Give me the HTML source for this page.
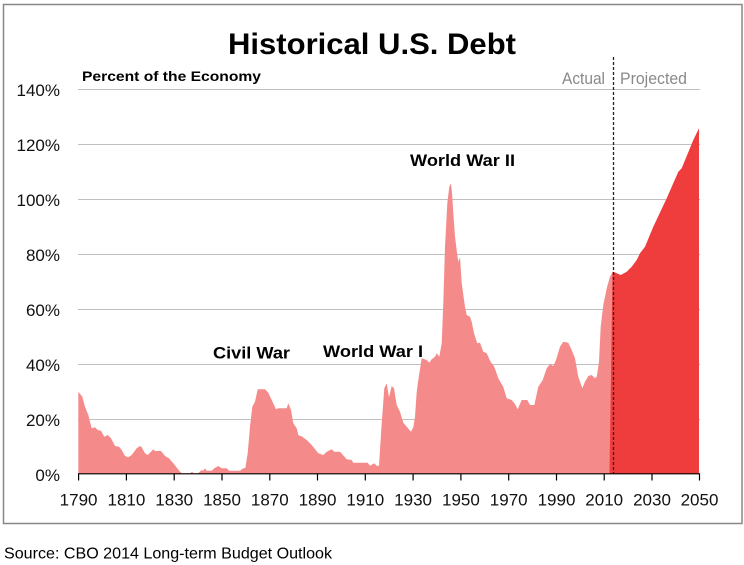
<!DOCTYPE html>
<html><head><meta charset="utf-8"><style>
html,body{margin:0;padding:0;background:#fff;}
svg{display:block;}
</style></head><body>
<svg width="744" height="565" viewBox="0 0 744 565" xmlns="http://www.w3.org/2000/svg" font-family="'Liberation Sans', Arial, sans-serif">
<rect x="0" y="0" width="744" height="565" fill="#fff"/>
<rect x="3.5" y="4.5" width="738.5" height="519" fill="none" stroke="#878787" stroke-width="1.5"/>
<!-- gridlines -->
<g stroke="#c0c0c0" stroke-width="1">
<line x1="78" y1="89.5" x2="700" y2="89.5"/>
<line x1="78" y1="144.5" x2="700" y2="144.5"/>
<line x1="78" y1="199.5" x2="700" y2="199.5"/>
<line x1="78" y1="254.5" x2="700" y2="254.5"/>
<line x1="78" y1="309.5" x2="700" y2="309.5"/>
<line x1="78" y1="364.5" x2="700" y2="364.5"/>
<line x1="78" y1="419.5" x2="700" y2="419.5"/>
</g>
<!-- actual -->
<path fill="#f58a8b" d="M78.3,473.5 L78.3,391.7 82.3,396.7 85,406.7 88.3,415 91.7,428.3 95,427.3 97.7,430 101,430.7 104.3,436.7 107.7,435 111,438.3 115,446 119,446.7 121.7,450 125,456 128.3,457.3 131.7,455 136.7,448.3 140,446 141.7,447.3 145,453.3 147.7,455 150,452.7 153.3,449.3 155,451 161,451 165,456 169,458.3 173.3,463.3 180,471.7 182,473.3 190,473.3 192,471.7 194,473.3 198,473.3 201.7,470 203.3,470.7 205,468.3 206.7,470.7 211.7,470.7 214.3,468.3 218.3,466 221.7,468.3 226.7,468.3 229,470.7 240,470.7 243.3,468.3 245.3,468 247.7,453.3 250,426.7 252.3,406.7 255,401.7 257.7,389.3 265,389.3 268.3,392.7 271.7,400 276,409.3 278.3,408.3 286.7,408.3 288.3,403.3 291,410 293.3,423.3 296.7,428.3 298.3,435 302.3,436.7 306.7,440 311.7,445 318.3,453.3 323.3,455 326.7,451.7 331.7,449.3 334.3,451.7 340,451.7 346.7,459.3 351.7,460 353.3,462.7 367.7,462.7 370,465.7 374.3,463.3 376.7,465.7 379,465.7 381.7,423.3 384.3,388.3 386.7,383.3 389,397.3 391.7,386 394,388.3 396.7,405 400,411.7 403.3,422.7 406.7,426.7 411,431.7 413.3,427.3 415,416.7 416.7,392 418.3,380 421.7,358.3 426.7,360 429.3,362.7 431.7,359.3 435,356.7 436.7,353.3 439.3,356.7 441.7,343.3 443.3,303.3 445,246.7 447.3,203.3 449.3,186.7 451,183.3 452.3,196.7 453.3,213.3 455,236.7 457.3,255 458.3,261.7 460,257.3 461.7,283.3 465,306.7 466.7,315 470,316.7 471.7,321.7 474,333.3 477.3,343.3 480,342.7 483.3,351.7 486.7,353.3 490,360.7 494.3,366.7 498.3,378.3 503.3,387 506.7,398.3 511.7,400 515,404 517.7,409.3 521.7,400 527.3,400 530,405 534.3,405 538.3,386.7 542.7,380 546.7,368.3 550,364 553.3,366 556,360 560,346.7 563.3,341.7 568.3,342.7 571.7,350 575,358.3 578.3,376.7 582.3,388.3 585,381.7 588.3,376 591.7,375 595,378.3 596.7,376.7 599,361.7 600.7,326.7 603.3,305 606.7,288.3 610,276.7 612.3,272.7 613.5,272 613.5,473.5 Z"/>
<!-- projected -->
<path fill="#ef3c3c" d="M609.5,473.5 L612.5,272 613.3,271.7 616.7,273.3 620.7,275 624,273.3 626.7,271.7 631.7,266.7 636.7,260 640,253.3 645,246.7 653.3,226.7 666.7,198.3 678.3,171.7 681.7,168.3 693.3,140 699,128.3 699,473.5 Z"/>
<!-- dashed divider -->
<line x1="613.5" y1="57" x2="613.5" y2="474" stroke="#222" stroke-width="1.3" stroke-dasharray="3,2"/>
<!-- x axis -->
<g stroke="#000" stroke-width="1.2">
<line x1="78" y1="473.8" x2="700" y2="473.8"/>
<line x1="78.6" y1="473.5" x2="78.6" y2="480.5"/>
<line x1="126.4" y1="473.5" x2="126.4" y2="480.5"/>
<line x1="174.2" y1="473.5" x2="174.2" y2="480.5"/>
<line x1="222" y1="473.5" x2="222" y2="480.5"/>
<line x1="269.8" y1="473.5" x2="269.8" y2="480.5"/>
<line x1="317.5" y1="473.5" x2="317.5" y2="480.5"/>
<line x1="365.3" y1="473.5" x2="365.3" y2="480.5"/>
<line x1="413.1" y1="473.5" x2="413.1" y2="480.5"/>
<line x1="460.9" y1="473.5" x2="460.9" y2="480.5"/>
<line x1="508.7" y1="473.5" x2="508.7" y2="480.5"/>
<line x1="556.5" y1="473.5" x2="556.5" y2="480.5"/>
<line x1="604.2" y1="473.5" x2="604.2" y2="480.5"/>
<line x1="652" y1="473.5" x2="652" y2="480.5"/>
<line x1="699.5" y1="473.5" x2="699.5" y2="480.5"/>
</g>
<!-- x labels -->
<g font-size="17" fill="#111" text-anchor="middle">
<text x="78.6" y="505.5">1790</text>
<text x="126.4" y="505.5">1810</text>
<text x="174.2" y="505.5">1830</text>
<text x="222" y="505.5">1850</text>
<text x="269.8" y="505.5">1870</text>
<text x="317.5" y="505.5">1890</text>
<text x="365.3" y="505.5">1910</text>
<text x="413.1" y="505.5">1930</text>
<text x="460.9" y="505.5">1950</text>
<text x="508.7" y="505.5">1970</text>
<text x="556.5" y="505.5">1990</text>
<text x="604.2" y="505.5">2010</text>
<text x="652" y="505.5">2030</text>
<text x="699.5" y="505.5">2050</text>
</g>
<!-- y labels -->
<g font-size="17" fill="#111" text-anchor="end">
<text x="60" y="96">140%</text>
<text x="60" y="151">120%</text>
<text x="60" y="206">100%</text>
<text x="60" y="261">80%</text>
<text x="60" y="316">60%</text>
<text x="60" y="371">40%</text>
<text x="60" y="426">20%</text>
<text x="60" y="481">0%</text>
</g>
<!-- title -->
<text x="228" y="54" font-size="30" font-weight="bold" fill="#000" textLength="288" lengthAdjust="spacingAndGlyphs">Historical U.S. Debt</text>
<text x="82" y="81" font-size="14" font-weight="bold" fill="#000" textLength="179" lengthAdjust="spacingAndGlyphs">Percent of the Economy</text>
<text x="562" y="84" font-size="16.5" fill="#898989" textLength="43" lengthAdjust="spacingAndGlyphs">Actual</text>
<text x="620" y="84" font-size="16.5" fill="#898989" textLength="67" lengthAdjust="spacingAndGlyphs">Projected</text>
<!-- annotations -->
<text x="410" y="166" font-size="17" font-weight="bold" fill="#000" textLength="105" lengthAdjust="spacingAndGlyphs">World War II</text>
<text x="213" y="358.5" font-size="17" font-weight="bold" fill="#000" textLength="77" lengthAdjust="spacingAndGlyphs">Civil War</text>
<text x="323" y="357" font-size="17" font-weight="bold" fill="#000" textLength="100" lengthAdjust="spacingAndGlyphs">World War I</text>
<!-- source -->
<text x="4" y="558.5" font-size="16" fill="#000" textLength="328" lengthAdjust="spacingAndGlyphs">Source: CBO 2014 Long-term Budget Outlook</text>
</svg>
</body></html>
